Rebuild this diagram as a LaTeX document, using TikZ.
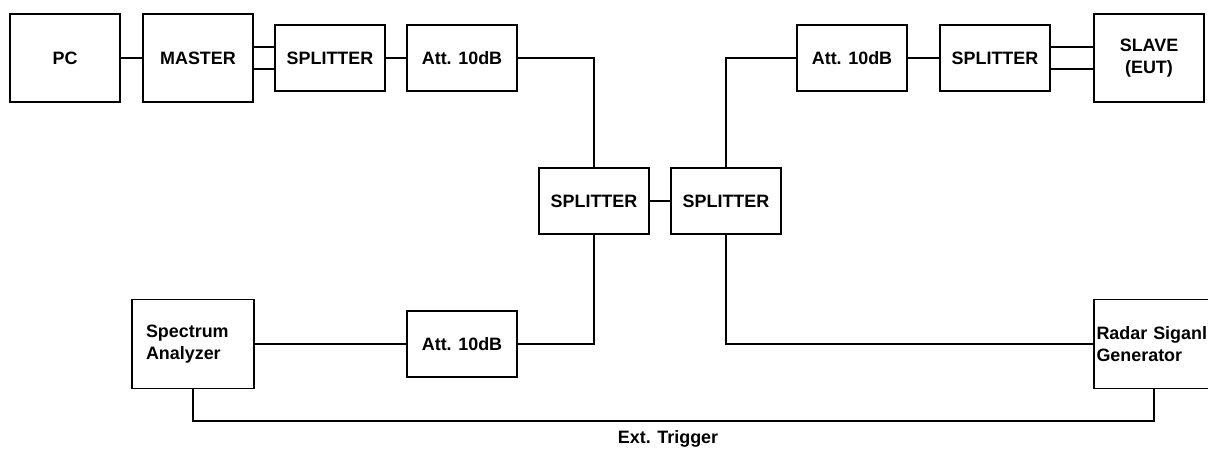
\documentclass[tikz,border=0pt]{standalone}
\usepackage{fontspec}
\setmainfont{Liberation Sans}
\begin{document}
\begin{tikzpicture}[x=0.02cm,y=-0.02cm,line width=0.8pt,
  font=\fontsize{10.2}{12.5}\selectfont\bfseries,
  blk/.style={draw,minimum width=2.2cm,minimum height=1.32cm,inner sep=0pt},
  bigblk/.style={blk,minimum height=1.76cm,align=center},
  leftblk/.style={draw,minimum height=1.78cm,align=left,inner ysep=0pt}]
 \clip (0,0) rectangle (1208,450);

 % top row, master side
 \node[bigblk] (pc) at (65,58) {PC};
 \node[bigblk] (master) at (198,58) {MASTER};
 \node[blk] (splm) at (330,58) {SPLITTER};
 \node[blk] (attm) at (462,58) {Att. 10dB};

 % top row, slave side
 \node[blk] (atts) at (852,58) {Att. 10dB};
 \node[blk] (spls) at (995,58) {SPLITTER};
 \node[bigblk] (slave) at (1149,58) {SLAVE\\(EUT)};

 % middle
 \node[blk] (splA) at (594,201) {SPLITTER};
 \node[blk] (splB) at (726,201) {SPLITTER};

 % bottom row
 \node[leftblk,text width=1.88cm,inner xsep=0.28cm] (sa) at (193,344) {Spectrum\\Analyzer};
 \node[blk] (attsa) at (462,344) {Att. 10dB};
 \node[leftblk,text width=2.3cm,inner xsep=0.05cm] (radar) at (1154,344) {Radar Siganl\\Generator};

 \draw (pc) -- (master);
 \foreach \y in {-11,11}
 {
  \draw ([yshift=-\y*0.02cm]master.east) -- ([yshift=-\y*0.02cm]master.east -| splm.west);
  \draw ([yshift=-\y*0.02cm]spls.east) -- ([yshift=-\y*0.02cm]spls.east -| slave.west);
 }
 \draw (splm) -- (attm);
 \draw (atts) -- (spls);
 \draw (splA) -- (splB);

 \draw (attm.east) -| (splA.north);
 \draw (splB.north) |- (atts.west);
 \draw (sa.east) -- (attsa.west);
 \draw (attsa.east) -| (splA.south);
 \draw (splB.south) |- (radar.west);

 \coordinate (trig) at (668,421);
 \draw (sa.south) |- (trig) -| (radar.south);
 \node (exttrig) at (668,439) {Ext. Trigger};

\end{tikzpicture}
\end{document}
